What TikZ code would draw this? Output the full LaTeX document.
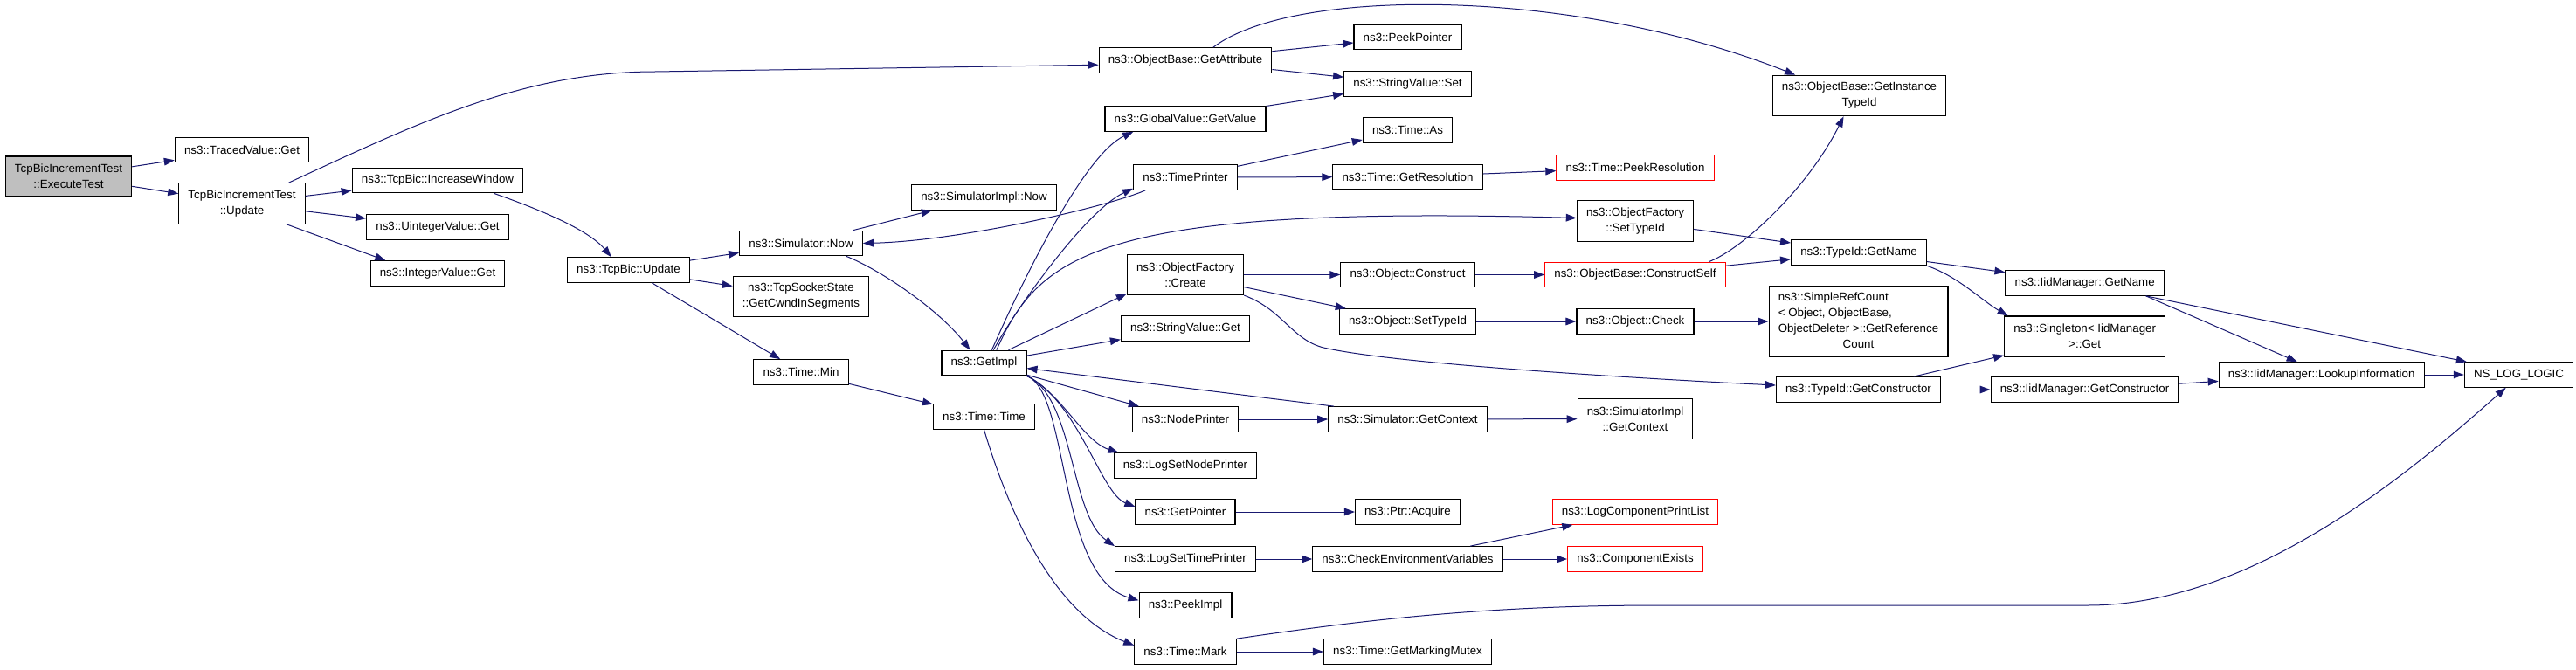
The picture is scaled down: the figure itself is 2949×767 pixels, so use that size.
\documentclass[tikz,border=0pt]{standalone}
\usepackage{fontspec}
\setmainfont{Liberation Sans}
\usetikzlibrary{arrows.meta}
\definecolor{navyline}{RGB}{25,25,112}
\definecolor{gray75}{RGB}{191,191,191}
\begin{document}
\begin{tikzpicture}[x=0.75pt,y=-0.75pt,
  fn/.style={draw=black,line width=0.9pt,fill=white,inner xsep=8pt,inner ysep=6pt,minimum height=21.4pt,align=center,font=\fontsize{10}{13.5}\selectfont},
  tall/.style={minimum height=34.5pt},
  root/.style={fn,fill=gray75},
  lost/.style={fn,draw=red},
  call/.style={draw=navyline,line width=0.75pt,-{Triangle[length=9pt,width=6.5pt]}}]
\useasboundingbox (0,0) rectangle (2949,767);
\node[root,tall] (exec) at (78.5,202) {TcpBicIncrementTest\\::ExecuteTest};
\node[fn] (traced) at (277,171.5) {ns3::TracedValue::Get};
\node[fn,tall] (upd) at (277,233) {TcpBicIncrementTest\\::Update};
\node[fn] (incwin) at (501,206.5) {ns3::TcpBic::IncreaseWindow};
\node[fn] (uint) at (501,260) {ns3::UintegerValue::Get};
\node[fn] (intv) at (501,313) {ns3::IntegerValue::Get};
\node[fn] (bicupd) at (719.5,309) {ns3::TcpBic::Update};
\node[fn] (simnow) at (917,278.5) {ns3::Simulator::Now};
\node[fn,tall] (cwnd) at (917,339.5) {ns3::TcpSocketState\\::GetCwndInSegments};
\node[fn] (tmin) at (917,426) {ns3::Time::Min};
\node[fn] (simnowimpl) at (1126.5,226) {ns3::SimulatorImpl::Now};
\node[fn] (getimpl) at (1126.5,415.5) {ns3::GetImpl};
\node[fn] (ttime) at (1126.5,477) {ns3::Time::Time};
\node[fn] (getattr) at (1357,69) {ns3::ObjectBase::GetAttribute};
\node[fn] (gvget) at (1357,136) {ns3::GlobalValue::GetValue};
\node[fn] (tprinter) at (1357,203) {ns3::TimePrinter};
\node[fn,tall] (ofcreate) at (1357,314.5) {ns3::ObjectFactory\\::Create};
\node[fn] (strget) at (1357,376) {ns3::StringValue::Get};
\node[fn] (nprinter) at (1357,480) {ns3::NodePrinter};
\node[fn] (lsnp) at (1357,533) {ns3::LogSetNodePrinter};
\node[fn] (getptr) at (1357,586) {ns3::GetPointer};
\node[fn] (lstp) at (1357,640) {ns3::LogSetTimePrinter};
\node[fn] (peekimpl) at (1357,693) {ns3::PeekImpl};
\node[fn] (tmark) at (1357,746) {ns3::Time::Mark};
\node[fn] (peekptr) at (1611.5,42.5) {ns3::PeekPointer};
\node[fn] (strset) at (1611.5,96) {ns3::StringValue::Set};
\node[fn] (tas) at (1611.5,149) {ns3::Time::As};
\node[fn] (getres) at (1611.5,202.5) {ns3::Time::GetResolution};
\node[fn] (objcons) at (1611.5,314.5) {ns3::Object::Construct};
\node[fn] (objsettid) at (1611.5,368) {ns3::Object::SetTypeId};
\node[fn] (simgetctx) at (1611.5,480) {ns3::Simulator::GetContext};
\node[fn] (ptracq) at (1611.5,586) {ns3::Ptr::Acquire};
\node[fn] (checkenv) at (1611.5,640) {ns3::CheckEnvironmentVariables};
\node[fn] (mutex) at (1611.5,746) {ns3::Time::GetMarkingMutex};
\node[lost] (peekres) at (1872,192) {ns3::Time::PeekResolution};
\node[fn,tall] (ofsettid) at (1872,253) {ns3::ObjectFactory\\::SetTypeId};
\node[lost] (cself) at (1872,314.5) {ns3::ObjectBase::ConstructSelf};
\node[fn] (objcheck) at (1872,368) {ns3::Object::Check};
\node[fn,tall] (implctx) at (1872,479.5) {ns3::SimulatorImpl\\::GetContext};
\node[lost] (lcplist) at (1872,586) {ns3::LogComponentPrintList};
\node[lost] (compex) at (1872,640) {ns3::ComponentExists};
\node[fn,tall] (insttid) at (2128.5,109.5) {ns3::ObjectBase::GetInstance\\TypeId};
\node[fn] (tidname) at (2128,289) {ns3::TypeId::GetName};
\node[fn,inner ysep=3pt] (refcount) at (2127.5,368) {\begin{tabular}{@{}l@{}}ns3::SimpleRefCount\\< Object, ObjectBase,\\ObjectDeleter >::GetReference\\\multicolumn{1}{@{}c@{}}{Count}\end{tabular}};
\node[fn] (tidctor) at (2127.5,446) {ns3::TypeId::GetConstructor};
\node[fn] (iidname) at (2386.7,324) {ns3::IidManager::GetName};
\node[fn,tall] (singleton) at (2386.7,385) {ns3::Singleton< IidManager\\>::Get};
\node[fn] (iidctor) at (2386.5,446) {ns3::IidManager::GetConstructor};
\node[fn] (lookup) at (2657.7,429) {ns3::IidManager::LookupInformation};
\node[fn] (nslog) at (2883.5,429) {NS\_LOG\_LOGIC};
\draw[call] (exec) -- (traced);
\draw[call] (exec) -- (upd);
\draw[call] (upd.24) .. controls (480,140) and (600,82) .. (750,82) -- (getattr.183);
\draw[call] (upd) -- (incwin);
\draw[call] (upd) -- (uint);
\draw[call] (upd.-25) -- (intv.166);
\draw[call] (incwin.-13) .. controls (604,235) and (671,260) .. (bicupd.143);
\draw[call] (bicupd) -- (simnow);
\draw[call] (bicupd) -- (cwnd);
\draw[call] (bicupd.-29) -- (tmin.148);
\draw[call] (simnow.14) -- (simnowimpl.194);
\draw[call] (simnow.-16) .. controls (1010,310) and (1075,355) .. (getimpl.137);
\draw[call] (tprinter.198) .. controls (1270,236) and (1100,276) .. (simnow.east);
\draw[call] (getattr) -- (peekptr);
\draw[call] (getattr) -- (strset);
\draw[call] (getattr.25) .. controls (1480,-15) and (1800,-15) .. (insttid.162);
\draw[call] (gvget) -- (strset);
\draw[call] (getimpl.59) .. controls (1180,300) and (1245,175) .. (gvget.194);
\draw[call] (getimpl.54) .. controls (1165,350) and (1245,240) .. (tprinter.192);
\draw[call] (getimpl.46) .. controls (1190,290) and (1260,235) .. (ofsettid.177);
\draw[call] (getimpl.28) -- (ofcreate.198);
\draw[call] (getimpl) -- (strget);
\draw[call] (simgetctx.170) -- (getimpl);
\draw[call] (getimpl) -- (nprinter);
\draw[call] (getimpl.south east) .. controls (1215,450) and (1240,505) .. (lsnp.169);
\draw[call] (getimpl.south east) .. controls (1235,460) and (1260,565) .. (getptr.174);
\draw[call] (getimpl.south east) .. controls (1230,455) and (1225,590) .. (lstp.north west);
\draw[call] (getimpl.south east) .. controls (1225,450) and (1210,660) .. (peekimpl.174);
\draw[call] (tmin) -- (ttime);
\draw[call] (ttime.south) .. controls (1150,570) and (1200,700) .. (tmark.173);
\draw[call] (tprinter) -- (tas);
\draw[call] (tprinter) -- (getres);
\draw[call] (getres) -- (peekres);
\draw[call] (ofsettid) -- (tidname);
\draw[call] (ofcreate) -- (objcons);
\draw[call] (ofcreate) -- (objsettid);
\draw[call] (ofcreate.south east) .. controls (1470,355) and (1480,392) .. (1520,399) .. controls (1600,416) and (1850,432) .. (tidctor.177);
\draw[call] (objcons) -- (cself);
\draw[call] (cself.10) .. controls (1995,285) and (2070,215) .. (insttid.233);
\draw[call] (cself) -- (tidname);
\draw[call] (objsettid) -- (objcheck);
\draw[call] (objcheck) -- (refcount);
\draw[call] (tidname) -- (iidname);
\draw[call] (tidname.-11) .. controls (2240,315) and (2270,345) .. (singleton.165);
\draw[call] (tidctor) -- (singleton);
\draw[call] (tidctor) -- (iidctor);
\draw[call] (iidname.-12) -- (lookup.152);
\draw[call] (iidname.-12) -- (nslog.166);
\draw[call] (iidctor) -- (lookup);
\draw[call] (lookup) -- (nslog);
\draw[call] (tmark.north east) .. controls (1560,710) and (1700,693) .. (1900,693) -- (2390,693) .. controls (2580,693) and (2760,540) .. (nslog.225);
\draw[call] (tmark) -- (mutex);
\draw[call] (nprinter) -- (simgetctx);
\draw[call] (simgetctx) -- (implctx);
\draw[call] (getptr) -- (ptracq);
\draw[call] (lstp) -- (checkenv);
\draw[call] (checkenv) -- (lcplist);
\draw[call] (checkenv) -- (compex);
\end{tikzpicture}
\end{document}
